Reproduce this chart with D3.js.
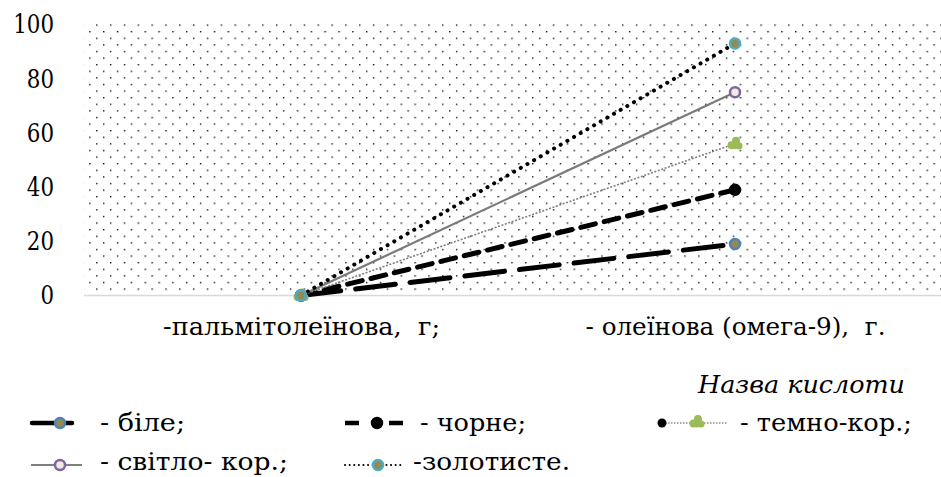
<!DOCTYPE html>
<html>
<head>
<meta charset="utf-8">
<script src="https://cdn.jsdelivr.net/npm/d3@7"></script>
<style>
  html, body { margin: 0; padding: 0; background: #fff; }
  svg { display: block; }
  svg text { font-family: "DejaVu Serif", "Liberation Serif", serif; fill: #000; white-space: pre; }
</style>
</head>
<body>
<div id="chart"></div>
<script>
// Acid names (x categories)
const categories = ["-пальмітолеїнова,  г;", "- олеїнова (омега-9),  г."];

// Series values, grams
const seriesNames = ["- біле;", "- чорне;", "- темно-кор.;", "- світло- кор.;", "-золотисте."];
const bile      = [0, 19];
const chorne    = [0, 39];
const temnoKor  = [0, 56];
const svitloKor = [0, 75];
const zolotyste = [0, 93];

const yTicks = [0, 20, 40, 60, 80, 100];
const axisTitle = "Назва кислоти";

const width = 941, height = 477;
const plot = { left: 84, right: 952, top: 22, bottom: 296 };

const svg = d3.select("#chart").append("svg")
  .attr("width", width).attr("height", height);

// Squeeze a text element to a given advance width (narrow serif look)
function fitWidth(sel, w) {
  sel.attr("textLength", w).attr("lengthAdjust", "spacingAndGlyphs");
}

// Dotted fill of the plot area
const defs = svg.append("defs");
const pat = defs.append("pattern")
  .attr("id", "dots")
  .attr("patternUnits", "userSpaceOnUse")
  .attr("x", 96.1).attr("y", 24.4)
  .attr("width", 13.84).attr("height", 13.2);
pat.append("rect").attr("x", 0).attr("y", 0).attr("width", 1.4).attr("height", 1.4).attr("fill", "#111");
pat.append("rect").attr("x", 6.92).attr("y", 6.6).attr("width", 1.4).attr("height", 1.4).attr("fill", "#111");

const x = d3.scalePoint().domain(categories).range([plot.left, plot.right]).padding(0.5);
const y = d3.scaleLinear().domain([0, 100]).range([295.5, 24.5]);

svg.append("rect")
  .attr("x", plot.left).attr("y", plot.top)
  .attr("width", plot.right - plot.left).attr("height", plot.bottom - plot.top)
  .attr("fill", "url(#dots)");

// Y axis labels
const yAxis = svg.append("g")
  .attr("transform", `translate(${plot.left - 30},0)`)
  .call(d3.axisLeft(y).tickValues(yTicks).tickSize(0).tickPadding(0).tickFormat(d3.format("d")));
yAxis.attr("font-family", null);
yAxis.select(".domain").remove();
yAxis.selectAll("text")
  .attr("font-size", 26.5)
  .attr("fill", "#000")
  .each(function(d) { fitWidth(d3.select(this), String(d).length * 13.6); });

// X axis line and labels
const catWidths = [277, 300];
const xAxis = svg.append("g")
  .attr("transform", `translate(0,${y(0)})`)
  .call(d3.axisBottom(x).tickSize(0).tickPadding(22));
xAxis.attr("font-family", null);
xAxis.select(".domain").attr("stroke", "#d9d9d9").attr("stroke-width", 1.6)
  .attr("d", `M${plot.left},0H${plot.right}`);
xAxis.selectAll("text")
  .attr("font-size", 24)
  .attr("fill", "#000")
  .each(function(d, i) { fitWidth(d3.select(this), catWidths[i]); });

// Series styles
const series = [
  { name: seriesNames[0], values: bile,      stroke: "#000", width: 5,   dash: "40,15", cap: "round",
    marker: "circle", fill: "#948a54", mstroke: "#4f81bd" },
  { name: seriesNames[1], values: chorne,    stroke: "#000", width: 5,   dash: "15,9", cap: "round",
    marker: "circle", fill: "#000", mstroke: "#000" },
  { name: seriesNames[2], values: temnoKor,  stroke: "#7f7f7f", width: 1.6, dash: "2,1.6", cap: "butt",
    marker: "blob", fill: "#9bbb59", mstroke: "#9bbb59" },
  { name: seriesNames[3], values: svitloKor, stroke: "#7a7a7a", width: 2.2, dash: null, cap: "butt",
    marker: "circle", fill: "#eeece1", mstroke: "#8064a2" },
  { name: seriesNames[4], values: zolotyste, stroke: "#000", width: 4,   dash: "0.1,7.6", cap: "round",
    marker: "circle", fill: "#948a54", mstroke: "#4bacc6" }
];

const line = d3.line().x((d, i) => x(categories[i])).y(d => y(d));

function drawMarker(g, s, cx, cy) {
  if (s.marker === "blob") {
    const b = g.append("g").attr("transform", `translate(${cx},${cy})`).attr("fill", s.fill);
    b.append("circle").attr("cx", 1).attr("cy", -3).attr("r", 4);
    b.append("circle").attr("cx", -3.5).attr("cy", 1.5).attr("r", 4);
    b.append("circle").attr("cx", 4).attr("cy", 2).attr("r", 3.6);
    b.append("circle").attr("cx", 0).attr("cy", 2).attr("r", 3.5);
  } else {
    g.append("circle").attr("cx", cx).attr("cy", cy).attr("r", 5)
      .attr("fill", s.fill).attr("stroke", s.mstroke).attr("stroke-width", 2.5);
  }
}

const linesG = svg.append("g");
series.forEach(s => {
  linesG.append("path")
    .attr("d", line(s.values))
    .attr("fill", "none")
    .attr("stroke", s.stroke)
    .attr("stroke-width", s.width)
    .attr("stroke-dasharray", s.dash)
    .attr("stroke-linecap", s.cap);
});
const markersG = svg.append("g");
series.forEach(s => {
  s.values.forEach((v, i) => drawMarker(markersG, s, x(categories[i]), y(v)));
});

// Axis title
svg.append("text")
  .attr("x", 698).attr("y", 393)
  .attr("font-size", 24.5)
  .attr("font-style", "italic")
  .text(axisTitle)
  .call(fitWidth, 207);

// Legend
const legend = svg.append("g");
const row1 = 423, row2 = 465;
const legendItems = [
  { s: series[0], tx: 100, base: 431, tw: 85 },
  { s: series[1], tx: 420, base: 431, tw: 106 },
  { s: series[2], tx: 740, base: 431, tw: 172 },
  { s: series[3], tx: 100, base: 469.5, tw: 188 },
  { s: series[4], tx: 413, base: 469.5, tw: 157 }
];

// legend keys
const k0 = legend.append("g");
k0.append("line").attr("x1", 32).attr("x2", 72).attr("y1", row1).attr("y2", row1)
  .attr("stroke", "#000").attr("stroke-width", 4.5).attr("stroke-linecap", "round");
drawMarker(k0, series[0], 60, row1);

const k1 = legend.append("g");
k1.append("line").attr("x1", 345).attr("x2", 403).attr("y1", row1).attr("y2", row1)
  .attr("stroke", "#000").attr("stroke-width", 4.5).attr("stroke-dasharray", "14,44");
k1.append("line").attr("x1", 389).attr("x2", 403).attr("y1", row1).attr("y2", row1)
  .attr("stroke", "#000").attr("stroke-width", 4.5);
drawMarker(k1, series[1], 377, row1);

const k2 = legend.append("g");
k2.append("line").attr("x1", 662).attr("x2", 727).attr("y1", row1).attr("y2", row1)
  .attr("stroke", "#555").attr("stroke-width", 1.2).attr("stroke-dasharray", "1.5,1.5");
k2.append("circle").attr("cx", 662).attr("cy", row1).attr("r", 4.5).attr("fill", "#000");
drawMarker(k2, series[2], 697, row1 - 1);

const k3 = legend.append("g");
k3.append("line").attr("x1", 31).attr("x2", 82).attr("y1", row2).attr("y2", row2)
  .attr("stroke", "#555").attr("stroke-width", 1.4);
drawMarker(k3, series[3], 60, row2);

const k4 = legend.append("g");
k4.append("line").attr("x1", 345).attr("x2", 403).attr("y1", row2).attr("y2", row2)
  .attr("stroke", "#000").attr("stroke-width", 2).attr("stroke-dasharray", "0.1,4.5")
  .attr("stroke-linecap", "round");
drawMarker(k4, series[4], 378, row2);

legendItems.forEach(it => {
  legend.append("text")
    .attr("x", it.tx).attr("y", it.base)
    .attr("font-size", 23.5)
    .text(it.s.name)
    .call(fitWidth, it.tw);
});
</script>
</body>
</html>
